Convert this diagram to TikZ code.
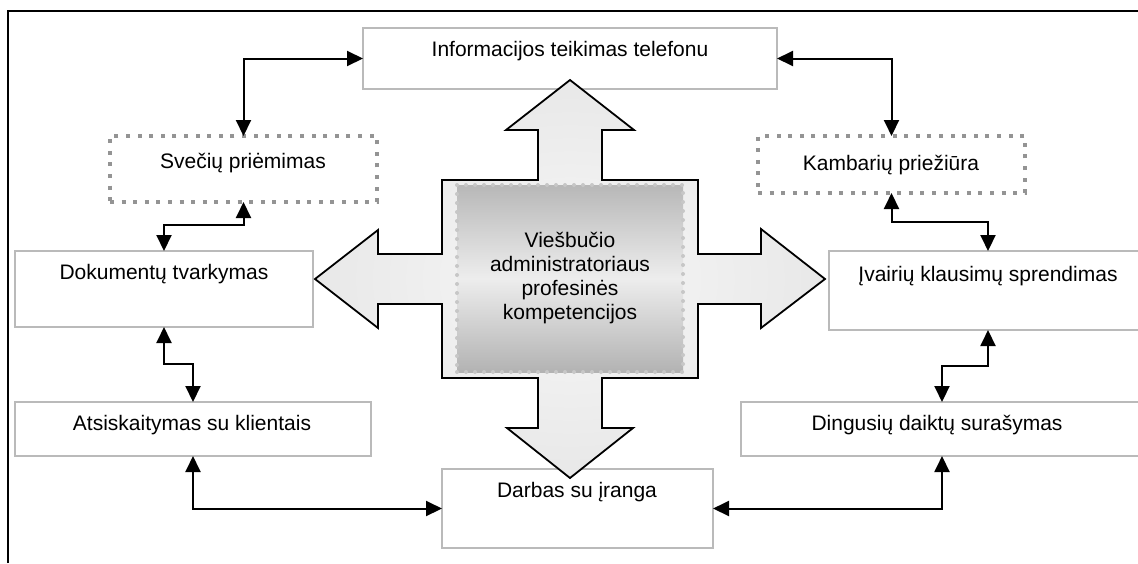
\documentclass[tikz,border=0pt]{standalone}
\usepackage{fontspec}
\setmainfont{Liberation Sans}
\usetikzlibrary{arrows.meta}
\pgfdeclareradialshading{crossshade}{\pgfpoint{0bp}{0bp}}{color(0bp)=(white!97!black); color(25bp)=(white!91!black); color(50bp)=(white!78!black)}
\begin{document}
\begin{tikzpicture}[x=0.5pt,y=-0.5pt,
  font=\fontsize{10.5pt}{12pt}\selectfont,
  box/.style={draw=black!27, line width=0.9pt, fill=white, inner sep=0pt, outer sep=0pt},
  dotbox/.style={draw=black!42, line width=2pt, dash pattern=on 2pt off 3.8pt, fill=white, inner sep=0pt, outer sep=0pt},
  txt/.style={inner sep=0pt, text=black},
  arr/.style={{Triangle[length=8pt,width=7.5pt]}-{Triangle[length=8pt,width=7.5pt]}, line width=1pt},
  corebox/.style={inner sep=0pt, align=center, top color=black!28, bottom color=black!30, middle color=black!7,
     draw=black!22, line width=2pt, dash pattern=on 0pt off 4.5pt, line cap=round}
]
\useasboundingbox (0,0) rectangle (1138,563);
% frame
\draw[line width=1.3pt] (8,563) -- (8,11) -- (1138,11);

% boxes
\node[box, minimum width=207pt, minimum height=30.5pt] (info) at (570,58.5) {};
\node[txt] (infot) at (570,51) {Informacijos teikimas telefonu};

\node[dotbox, minimum width=133.5pt, minimum height=33pt] (svec) at (243.5,169) {};
\node[txt] (svect) at (243,163) {Svečių priėmimas};

\node[dotbox, minimum width=133.5pt, minimum height=28.5pt] (kamb) at (891.5,164.5) {};
\node[txt] (kambt) at (891,165) {Kambarių priežiūra};

\node[box, minimum width=149pt, minimum height=38pt] (dok) at (164,289) {};
\node[txt] (dokt) at (164,274) {Dokumentų tvarkymas};

\node[box, minimum width=159pt, minimum height=39.5pt] (ivair) at (988,290.5) {};
\node[txt] (ivairt) at (988,276) {Įvairių klausimų sprendimas};

\node[box, minimum width=178pt, minimum height=27pt] (ats) at (193,429) {};
\node[txt] (atst) at (192,425) {Atsiskaitymas su klientais};

\node[box, minimum width=201pt, minimum height=27pt] (ding) at (942,429) {};
\node[txt] (dingt) at (937,425) {Dingusių daiktų surašymas};

\node[box, minimum width=135.5pt, minimum height=39.5pt] (darb) at (577.5,508.5) {};
\node[txt] (darbt) at (577,492) {Darbas su įranga};

% connectors
\draw[arr] (info.west) -| (svec.north);
\draw[arr] (info.east) -| (kamb.north);
\draw[arr] (svec.south) -- ++(0,23) -| (dok.north);
\draw[arr] (dok.south) -- ++(0,37) -| (ats.north);
\draw[arr] (ats.south) |- (darb.west);
\draw[arr] (kamb.south) -- ++(0,29) -| (ivair.north);
\draw[arr] (ivair.south) -- ++(0,36) -| (ding.north);
\draw[arr] (ding.south) |- (darb.east);

% central cross
\draw[shading=crossshade, line width=0.9pt, line join=miter]
  (570,80) -- (634,130) -- (602,130) -- (602,180) -- (698,180) -- (698,254)
  -- (761,254) -- (761,229) -- (825,279) -- (761,328) -- (761,304) -- (698,304)
  -- (698,378) -- (602,378) -- (602,428) -- (633,428) -- (570,478) -- (507,428)
  -- (538,428) -- (538,378) -- (442,378) -- (442,304) -- (378,304) -- (378,328)
  -- (315,279) -- (378,230) -- (378,254) -- (442,254) -- (442,180) -- (538,180)
  -- (538,130) -- (506,130) -- cycle;
\node[corebox, minimum width=113pt, minimum height=93.5pt] (core) at (570,278.5)
  {Viešbučio\\administratoriaus\\profesinės\\kompetencijos};
\end{tikzpicture}
\end{document}
